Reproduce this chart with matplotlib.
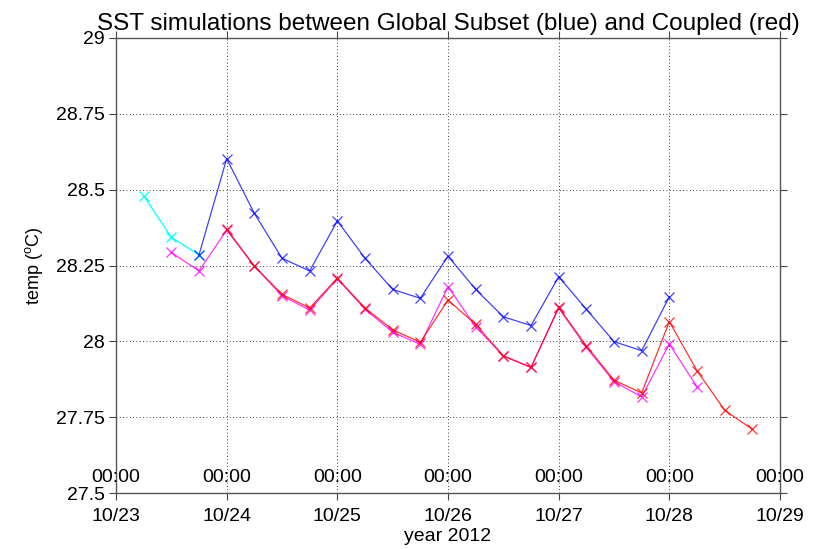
import numpy as np
import pandas as pd
import matplotlib
matplotlib.use("Agg")
import matplotlib.pyplot as plt
import matplotlib.dates as mdates
import matplotlib.transforms as mtransforms

plt.rcParams["font.family"] = ["Liberation Sans", "DejaVu Sans"]

# time axis: 6-hourly steps from 10/23 06:00
t_cyan = pd.to_datetime(["2012-10-23 06:00", "2012-10-23 12:00", "2012-10-23 18:00"])
sst_cyan = [28.48, 28.343, 28.285]

t_blue = pd.date_range("2012-10-23 18:00", "2012-10-28 00:00", freq="6h")
sst_blue = [28.285, 28.602, 28.422, 28.274, 28.232,
            28.397, 28.274, 28.171, 28.142,
            28.281, 28.171, 28.081, 28.052,
            28.213, 28.106, 27.999, 27.969,
            28.147]

t_magenta = pd.date_range("2012-10-23 12:00", "2012-10-28 06:00", freq="6h")
sst_magenta = [28.293, 28.232, 28.367, 28.248, 28.150, 28.103,
               28.206, 28.106, 28.030, 27.990,
               28.180, 28.048, 27.952, 27.914,
               28.110, 27.980, 27.867, 27.817,
               27.991, 27.850]

t_red = pd.date_range("2012-10-24 00:00", "2012-10-28 18:00", freq="6h")
sst_red = [28.370, 28.248, 28.155, 28.110,
           28.208, 28.110, 28.038, 27.997,
           28.136, 28.056, 27.952, 27.914,
           28.112, 27.985, 27.872, 27.830,
           28.065, 27.903, 27.773, 27.710]

day_ticks = pd.date_range("2012-10-23", "2012-10-29", freq="D")
y_ticks = [27.5, 27.75, 28, 28.25, 28.5, 28.75, 29]
y_labels = ["27.5", "27.75", "28", "28.25", "28.5", "28.75", "29"]

fig = plt.figure(figsize=(8.18, 5.49), dpi=100)
ax = fig.add_axes([116 / 818, 56 / 549, 664 / 818, 455 / 549])

kw = dict(marker="x", markersize=7, linewidth=0.9, markeredgewidth=0.9)
ax.plot(t_cyan, sst_cyan, color="cyan", **kw)
ax.plot(t_magenta, sst_magenta, color="magenta", alpha=0.8, **kw)
ax.plot(t_red, sst_red, color="red", alpha=0.8, **kw)
ax.plot(t_blue, sst_blue, color="blue", alpha=0.75, **kw)

ax.set_xlim(day_ticks[0], day_ticks[-1])
ax.set_ylim(27.5, 29)
ax.set_yticks(y_ticks)
ax.set_yticklabels(y_labels)
ax.set_xticks(day_ticks)
ax.xaxis.set_major_formatter(mdates.DateFormatter("%m/%d"))

ax.grid(True, linestyle=(0, (1, 3)), color="black", linewidth=0.6)
ax.tick_params(direction="out", length=5, width=0.8, labelsize=14,
               top=True, right=True, colors="#444444", labelcolor="black")
ax.tick_params(axis="x", pad=6)
ax.tick_params(axis="y", pad=3)
for s in ax.spines.values():
    s.set_color("#555555")
    s.set_linewidth(1.0)

trans = mtransforms.blended_transform_factory(ax.transData, ax.transAxes)
for d in day_ticks:
    ax.text(d, 0.033, "00:00", transform=trans, ha="center", va="center",
            fontsize=14, clip_on=False)

ax.set_title("SST simulations between Global Subset (blue) and Coupled (red)",
             fontsize=17.5, pad=6)
ax.set_xlabel("year 2012", fontsize=14, labelpad=2)
ax.set_ylabel("temp ($^\\mathregular{o}$C)", fontsize=13, labelpad=8)

fig.savefig("out.png", dpi=100)
